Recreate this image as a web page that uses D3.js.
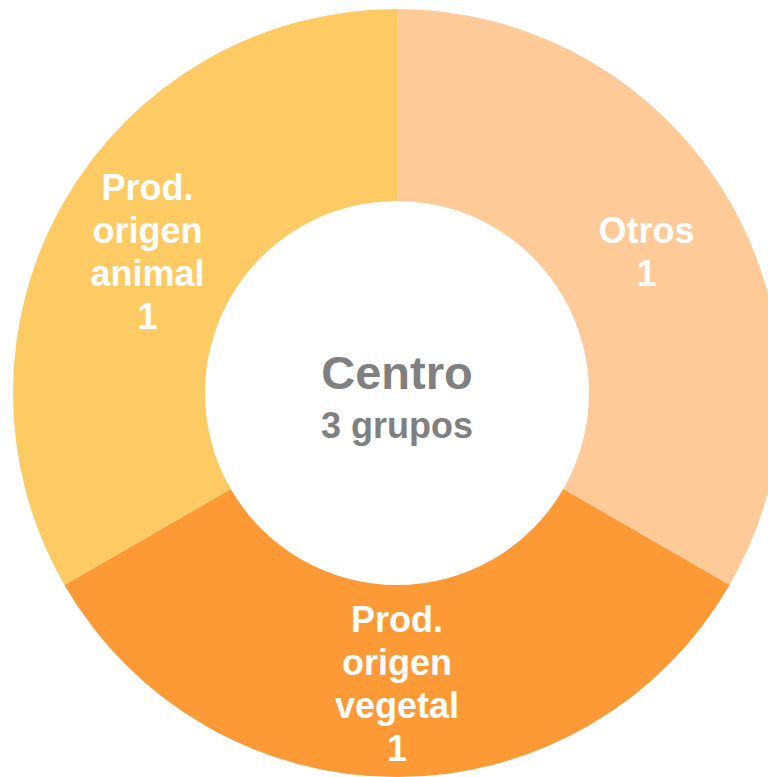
<!DOCTYPE html>
<html>
<head>
<meta charset="utf-8">
<script src="https://cdn.jsdelivr.net/npm/d3@7"></script>
<style>
  html, body { margin: 0; padding: 0; background: #fff; }
  svg { display: block; }
</style>
</head>
<body>
<script>
const categories = ["Otros", "Prod. origen vegetal", "Prod. origen animal"];
const labelLines = [["Otros", "1"], ["Prod.", "origen", "vegetal", "1"], ["Prod.", "origen", "animal", "1"]];
const values = [1, 1, 1];
const colors = ["#FECA98", "#FD9A35", "#FECA64"];
const centerTitle = "Centro";
const centerSubtitle = "3 grupos";

const W = 768, H = 777;
const cx = 397, cy = 393, outerR = 384, innerR = 192;

const svg = d3.select("body").append("svg").attr("width", W).attr("height", H);
const g = svg.append("g").attr("transform", `translate(${cx},${cy})`);

const pie = d3.pie().value(d => d).sort(null);
const arcs = pie(values);
const arc = d3.arc().innerRadius(innerR).outerRadius(outerR);
const color = d3.scaleOrdinal().domain(categories).range(colors);

g.selectAll("path.slice").data(arcs).enter().append("path")
  .attr("class", "slice")
  .attr("d", arc)
  .attr("fill", (d, i) => color(categories[i]));

const fontFamily = "'Liberation Sans', Arial, Helvetica, sans-serif";
const lh = 43;
arcs.forEach((d, i) => {
  const [x, y] = arc.centroid(d);
  const lines = labelLines[i];
  const t = g.append("text")
    .attr("text-anchor", "middle")
    .attr("font-family", fontFamily)
    .attr("font-weight", "bold")
    .attr("font-size", 36)
    .attr("fill", "#ffffff");
  lines.forEach((ln, j) => {
    t.append("tspan")
      .attr("x", x)
      .attr("y", y + (j - (lines.length - 1) / 2) * lh + 15)
      .text(ln);
  });
});

g.append("text")
  .attr("text-anchor", "middle")
  .attr("font-family", fontFamily)
  .attr("font-weight", "bold")
  .attr("font-size", 47)
  .attr("fill", "#808080")
  .attr("x", 0).attr("y", -4)
  .text(centerTitle);

g.append("text")
  .attr("text-anchor", "middle")
  .attr("font-family", fontFamily)
  .attr("font-weight", "bold")
  .attr("font-size", 36)
  .attr("fill", "#808080")
  .attr("x", 0).attr("y", 45)
  .text(centerSubtitle);
</script>
</body>
</html>
